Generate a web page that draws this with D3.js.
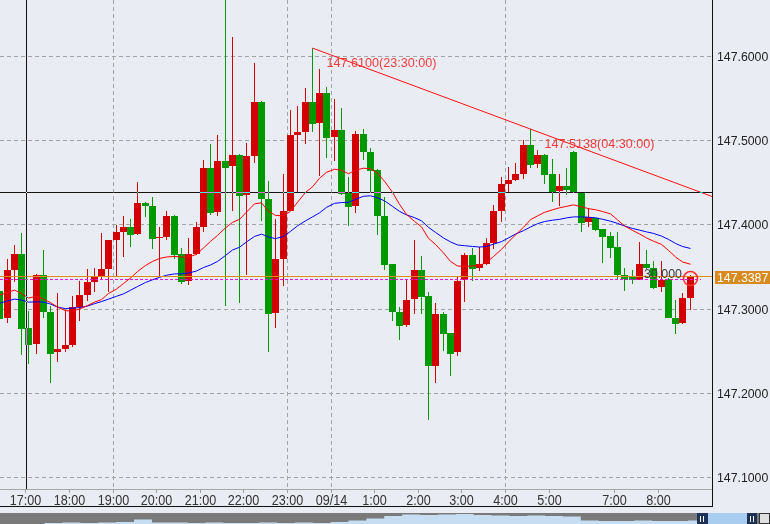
<!DOCTYPE html>
<html><head><meta charset="utf-8">
<script src="https://cdn.jsdelivr.net/npm/d3@7"></script>
<style>html,body{margin:0;padding:0;background:#e9ecf3;overflow:hidden}svg{display:block}</style>
</head><body><svg id="c" width="770" height="524"></svg>
<script>
const times = ["16:20","16:30","16:40","16:50",
"17:00","17:10","17:20","17:30","17:40","17:50","18:00","18:10","18:20","18:30","18:40","18:50",
"19:00","19:10","19:20","19:30","19:40","19:50","20:00","20:10","20:20","20:30","20:40","20:50",
"21:00","21:10","21:20","21:30","21:40","21:50","22:00","22:10","22:20","22:30","22:40","22:50",
"23:00","23:10","23:20","23:30","23:40","23:50","0:00","0:10","0:20","0:30","0:40","0:50",
"1:00","1:10","1:20","1:30","1:40","1:50","2:00","2:10","2:20","2:30","2:40","2:50",
"3:00","3:10","3:20","3:30","3:40","3:50","4:00","4:10","4:20","4:30","4:40","4:50",
"5:00","5:10","5:20","5:30","5:40","5:50","6:30","6:40","6:50",
"7:00","7:10","7:20","7:30","7:40","7:50","8:00","8:10","8:20","8:30","8:40"];

const openP = [147.321,147.289,147.346,147.366,147.277,147.258,147.340,147.297,147.249,147.253,
147.257,147.303,147.317,147.332,147.338,147.348,147.382,147.391,147.397,147.389,
147.426,147.423,147.384,147.386,147.411,147.365,147.333,147.365,147.397,147.468,
147.415,147.476,147.470,147.483,147.435,147.482,147.546,147.431,147.295,147.359,
147.417,147.507,147.510,147.546,147.521,147.557,147.504,147.513,147.438,147.422,
147.508,147.487,147.465,147.411,147.353,147.297,147.281,147.312,147.347,147.315,
147.233,147.294,147.272,147.249,147.334,147.364,147.349,147.353,147.379,147.416,
147.448,147.453,147.461,147.495,147.472,147.483,147.460,147.440,147.446,147.487,
147.438,147.403,147.408,147.395,147.387,147.374,147.341,147.339,147.335,147.354,
147.349,147.326,147.336,147.290,147.283,147.313];
const highP = [147.325,147.359,147.376,147.390,147.298,147.342,147.370,147.304,147.319,147.299,
147.315,147.333,147.348,147.349,147.390,147.382,147.400,147.411,147.407,147.451,
147.427,147.433,147.397,147.417,147.412,147.373,147.385,147.403,147.477,147.496,
147.507,147.690,147.623,147.484,147.497,147.592,147.547,147.452,147.407,147.460,
147.537,147.541,147.563,147.610,147.585,147.564,147.549,147.539,147.457,147.511,
147.514,147.491,147.466,147.433,147.353,147.303,147.334,147.382,147.363,147.320,
147.307,147.297,147.272,147.338,147.367,147.372,147.374,147.385,147.424,147.457,
147.469,147.473,147.501,147.5138,147.489,147.484,147.478,147.460,147.467,147.488,
147.438,147.420,147.408,147.395,147.392,147.392,147.349,147.346,147.380,147.370,
147.357,147.357,147.337,147.311,147.319,147.340];
const lowP = [147.283,147.283,147.332,147.245,147.235,147.247,147.290,147.212,147.237,147.249,
147.255,147.286,147.310,147.320,147.335,147.320,147.339,147.362,147.374,147.388,
147.409,147.371,147.338,147.382,147.359,147.330,147.329,147.364,147.391,147.412,
147.411,147.304,147.417,147.307,147.341,147.474,147.405,147.249,147.277,147.327,
147.416,147.439,147.496,147.510,147.458,147.480,147.476,147.436,147.399,147.414,
147.477,147.438,147.388,147.346,147.286,147.263,147.279,147.294,147.294,147.168,
147.212,147.250,147.221,147.244,147.308,147.333,147.345,147.352,147.371,147.403,
147.439,147.452,147.454,147.467,147.468,147.449,147.427,147.422,147.436,147.438,
147.391,147.397,147.393,147.355,147.361,147.335,147.322,147.330,147.334,147.348,
147.324,147.320,147.289,147.271,147.282,147.299];
const closeP = [147.288,147.346,147.366,147.276,147.257,147.340,147.296,147.247,147.253,147.257,
147.303,147.317,147.332,147.338,147.348,147.382,147.391,147.397,147.388,147.426,
147.422,147.383,147.386,147.411,147.364,147.332,147.365,147.397,147.468,147.414,
147.476,147.468,147.483,147.434,147.482,147.546,147.431,147.294,147.359,147.417,
147.507,147.510,147.546,147.520,147.557,147.503,147.513,147.437,147.421,147.508,
147.487,147.464,147.410,147.352,147.296,147.280,147.311,147.347,147.314,147.232,
147.294,147.271,147.247,147.333,147.364,147.348,147.353,147.379,147.416,147.448,
147.453,147.461,147.495,147.471,147.483,147.459,147.439,147.446,147.441,147.439,
147.402,147.409,147.394,147.386,147.373,147.340,147.336,147.335,147.354,147.349,
147.325,147.335,147.289,147.282,147.313,147.3387];

const maShort = [147.3167,147.3196,147.3226,147.3185,147.3131,147.3155,147.3119,147.3077,147.3024,147.2982,
147.2976,147.3000,147.3042,147.3083,147.3113,147.3185,147.3238,147.3304,147.3369,147.3446,
147.3518,147.3566,147.3601,147.3619,147.3625,147.3619,147.3619,147.3649,147.3726,147.3804,
147.3875,147.3965,147.4030,147.4066,147.4152,147.4250,147.4262,147.4161,147.4113,147.4107,
147.4161,147.4268,147.4387,147.4452,147.4554,147.4625,147.4661,147.4649,147.4607,147.4649,
147.4673,147.4667,147.4613,147.4518,147.4387,147.4244,147.4125,147.4042,147.3976,147.3840,
147.3768,147.3667,147.3566,147.3512,147.3506,147.3512,147.3518,147.3554,147.3625,147.3709,
147.3798,147.3881,147.3971,147.4062,147.4107,147.4149,147.4179,147.4203,147.4220,147.4238,
147.4215,147.4193,147.4180,147.4159,147.4131,147.4060,147.3988,147.3935,147.3893,147.3845,
147.3807,147.3768,147.3697,147.3619,147.3560,147.3533];
const maLong = [147.3069,147.3096,147.3119,147.3107,147.3083,147.3086,147.3083,147.3060,147.3024,147.3006,
147.3012,147.3018,147.3036,147.3065,147.3089,147.3119,147.3152,147.3181,147.3224,147.3268,
147.3316,147.3348,147.3377,147.3402,147.3418,147.3419,147.3429,147.3452,147.3494,147.3524,
147.3566,147.3637,147.3702,147.3734,147.3798,147.3863,147.3890,147.3857,147.3837,147.3863,
147.3923,147.3988,147.4048,147.4095,147.4143,147.4208,147.4256,147.4265,147.4268,147.4304,
147.4340,147.4346,147.4322,147.4286,147.4220,147.4161,147.4119,147.4086,147.4048,147.3971,
147.3911,147.3845,147.3798,147.3762,147.3753,147.3744,147.3737,147.3744,147.3771,147.3801,
147.3845,147.3891,147.3932,147.3975,147.4014,147.4040,147.4056,147.4066,147.4083,147.4095,
147.4095,147.4091,147.4085,147.4067,147.4044,147.4018,147.3987,147.3958,147.3938,147.3917,
147.3899,147.3867,147.3828,147.3780,147.3744,147.3720];

const yTicks = [147.1, 147.2, 147.3, 147.4, 147.5, 147.6];
const xTickTimes = ["17:00","18:00","19:00","20:00","21:00","22:00","23:00","0:00","1:00","2:00","3:00","4:00","5:00","7:00","8:00"];
const xTickLabels = ["17:00","18:00","19:00","20:00","21:00","22:00","23:00","09/14","1:00","2:00","3:00","4:00","5:00","7:00","8:00"];
const vGridTimes = ["19:00","23:00","0:00","4:00"];
const trendTimes = ["23:30","4:30"];
const trendPrices = [147.6100, 147.5138];
const trendLabels = ["147.6100(23:30:00)","147.5138(04:30:00)"];
const currentPrice = 147.3387;
const bidPrice = 147.3348;
const crossTime = "17:00";
const crossPrice = 147.4385;
const rangeLabel = "30.000";
const navValues = [0,0,0,0.1,0.15,0.1,0.15,0.2,0.45,0.15,0.15,0.1,0.15,0.1,0.1,0.15,0.1,0.15,0.1,0.2,
0.35,0.55,0.8,0.95,0.9,0.95,1,0.9,0.85,0.8,0.85,0.8,0.75,0.35,0.3,0.3,0.35,0.3,0.3,0.35];

const W = 770, H = 524, PR = 712, PB = 489;
const FONT = "Liberation Sans, Arial, sans-serif";
const svg = d3.select("#c");
svg.append("rect").attr("width", W).attr("height", H).attr("fill", "#e9ecf3");
svg.append("defs").append("clipPath").attr("id", "plot")
  .append("rect").attr("x", 0).attr("y", 0).attr("width", PR).attr("height", PB);

const x = d3.scaleBand().domain(times).range([-3.168, -3.168 + times.length * 7.267]).padding(0);
const L = t => Math.floor(x(t));
const cxm = t => L(t) + 3.5;
const y = d3.scaleLinear().domain([147.1, 147.6]).range([477.5, 56.5]);
const fy = v => Math.floor(y(v)) + 0.5;

const grid = svg.append("g").attr("stroke", "#a4a4a4").attr("stroke-dasharray", "4,3").attr("stroke-width", 1);
grid.selectAll("line.h").data(yTicks).join("line").attr("class", "h")
  .attr("x1", 0).attr("x2", PR).attr("y1", d => fy(d)).attr("y2", d => fy(d));
grid.selectAll("line.v").data(vGridTimes).join("line").attr("class", "v")
  .attr("x1", d => L(d) + 0.5).attr("x2", d => L(d) + 0.5).attr("y1", 0).attr("y2", PB);

const plot = svg.append("g").attr("clip-path", "url(#plot)");
const idx = d3.range(times.length);
const up = i => closeP[i] >= openP[i];
const cg = plot.append("g").attr("shape-rendering", "crispEdges");
cg.selectAll("rect.w").data(idx).join("rect").attr("class", "w")
  .attr("x", i => L(times[i]) + 3).attr("width", 1)
  .attr("y", i => Math.round(y(highP[i])))
  .attr("height", i => Math.max(1, Math.round(y(lowP[i])) - Math.round(y(highP[i]))))
  .attr("fill", i => up(i) ? "#d20000" : "#009a00");
cg.selectAll("rect.b").data(idx).join("rect").attr("class", "b")
  .attr("x", i => L(times[i])).attr("width", 7)
  .attr("y", i => Math.round(y(Math.max(openP[i], closeP[i]))))
  .attr("height", i => Math.max(1, Math.round(y(Math.min(openP[i], closeP[i]))) - Math.round(y(Math.max(openP[i], closeP[i])))))
  .attr("fill", i => up(i) ? "#d20000" : "#009a00");

const line = arr => d3.line().x(i => cxm(times[i])).y(i => y(arr[i]))(idx);
plot.append("path").attr("d", line(maLong)).attr("fill", "none").attr("stroke", "#0000ff").attr("stroke-width", 1);
plot.append("path").attr("d", line(maShort)).attr("fill", "none").attr("stroke", "#ff0000").attr("stroke-width", 1);

// trend line through the two highs, extended right
const tx0 = cxm(trendTimes[0]), ty0 = y(trendPrices[0]);
const tx1 = cxm(trendTimes[1]), ty1 = y(trendPrices[1]);
const slope = (ty1 - ty0) / (tx1 - tx0);
plot.append("line").attr("x1", tx0).attr("y1", ty0).attr("x2", 730).attr("y2", ty0 + slope * (730 - tx0))
  .attr("stroke", "#ff1010").attr("stroke-width", 1);
trendLabels.forEach((s, k) => {
  plot.append("text").attr("x", cxm(trendTimes[k]) + 14).attr("y", y(trendPrices[k]) + 19)
    .attr("font-family", FONT).attr("font-size", 13)
    .attr("textLength", 110).attr("lengthAdjust", "spacingAndGlyphs")
    .attr("fill", "#f23a3a").text(s);
});

// current price & bid line
svg.append("line").attr("x1", 0).attr("x2", PR).attr("y1", y(currentPrice)).attr("y2", y(currentPrice))
  .attr("stroke", "#e08a1c").attr("stroke-width", 1.2);
svg.append("line").attr("x1", 0).attr("x2", 701).attr("y1", fy(bidPrice)).attr("y2", fy(bidPrice))
  .attr("stroke", "#e010e0").attr("stroke-width", 1).attr("stroke-dasharray", "3,2");
svg.append("text").attr("x", 644).attr("y", y(currentPrice) + 1)
  .attr("font-family", FONT).attr("font-size", 13)
  .attr("textLength", 38).attr("lengthAdjust", "spacingAndGlyphs")
  .attr("fill", "#3a3a3a").text(rangeLabel);
svg.append("circle").attr("cx", cxm(times[times.length - 1])).attr("cy", y(currentPrice) + 2).attr("r", 7)
  .attr("fill", "none").attr("stroke", "#ff3030").attr("stroke-width", 1.6);

// x axis
svg.append("line").attr("x1", 0).attr("x2", PR).attr("y1", PB + 0.5).attr("y2", PB + 0.5).attr("stroke", "#a8a8a8");
svg.selectAll("line.xt").data(xTickTimes).join("line").attr("class", "xt")
  .attr("x1", d => L(d) + 0.5).attr("x2", d => L(d) + 0.5).attr("y1", PB).attr("y2", PB + 4).attr("stroke", "#a0a0a0");
svg.selectAll("text.xl").data(xTickTimes).join("text").attr("class", "xl")
  .attr("transform", d => `translate(${L(d) + 0.5},505) scale(0.9,1)`)
  .attr("text-anchor", "middle").attr("font-family", FONT).attr("font-size", 14)
  .attr("fill", "#333").text((d, k) => xTickLabels[k]);

// y axis labels
svg.selectAll("text.yl").data(yTicks).join("text").attr("class", "yl")
  .attr("x", 717).attr("y", d => fy(d) + 4.5)
  .attr("font-family", FONT).attr("font-size", 12.3)
  .attr("fill", "#222").text(d => d.toFixed(4));
svg.append("rect").attr("x", 715).attr("y", Math.round(y(currentPrice)) - 6).attr("width", 55).attr("height", 13).attr("fill", "#d98a1e");
svg.append("text").attr("x", 717).attr("y", Math.round(y(currentPrice)) + 4.5)
  .attr("font-family", FONT).attr("font-size", 12.3)
  .attr("fill", "#ffffff").text(currentPrice.toFixed(4));

// frame
svg.append("line").attr("x1", PR + 0.5).attr("x2", PR + 0.5).attr("y1", 0).attr("y2", 507).attr("stroke", "#111");
svg.append("line").attr("x1", 0).attr("x2", PR + 1).attr("y1", 506.5).attr("y2", 506.5).attr("stroke", "#111");

// crosshair (inverting)
const ch = svg.append("g");
ch.append("line").attr("x1", 0).attr("x2", PR).attr("y1", fy(crossPrice)).attr("y2", fy(crossPrice)).attr("stroke", "#fff").style("mix-blend-mode", "difference");
ch.append("line").attr("x1", L(crossTime) + 1.5).attr("x2", L(crossTime) + 1.5).attr("y1", 0).attr("y2", PB).attr("stroke", "#fff").style("mix-blend-mode", "difference");

// navigator
svg.append("rect").attr("x", 0).attr("y", 513).attr("width", W).attr("height", 11).attr("fill", "#7a7a7a");
const nx = d3.scaleLinear().domain([0, navValues.length - 1]).range([0, 697]);
const ny = d3.scaleLinear().domain([0, 1]).range([524, 514]);
svg.append("path").attr("d", d3.area().x((d, i) => nx(i)).y0(524).y1(d => ny(d)).curve(d3.curveStep)(navValues)).attr("fill", "#c6ddf2");
svg.append("rect").attr("x", 708).attr("y", 513).attr("width", 39).attr("height", 11).attr("fill", "#a9cdee");
[[697, 11], [747, 10]].forEach(([hx, hw]) => {
  svg.append("rect").attr("x", hx).attr("y", 513).attr("width", hw).attr("height", 11).attr("fill", "#1d3057");
  svg.append("rect").attr("x", hx + 3).attr("y", 516).attr("width", 1).attr("height", 6).attr("fill", "#fff");
  svg.append("rect").attr("x", hx + 6).attr("y", 516).attr("width", 1).attr("height", 6).attr("fill", "#fff");
});
svg.append("rect").attr("x", 759.5).attr("y", 513.5).attr("width", 10).attr("height", 10).attr("fill", "#e0e0e0").attr("stroke", "#333");
</script></body></html>
